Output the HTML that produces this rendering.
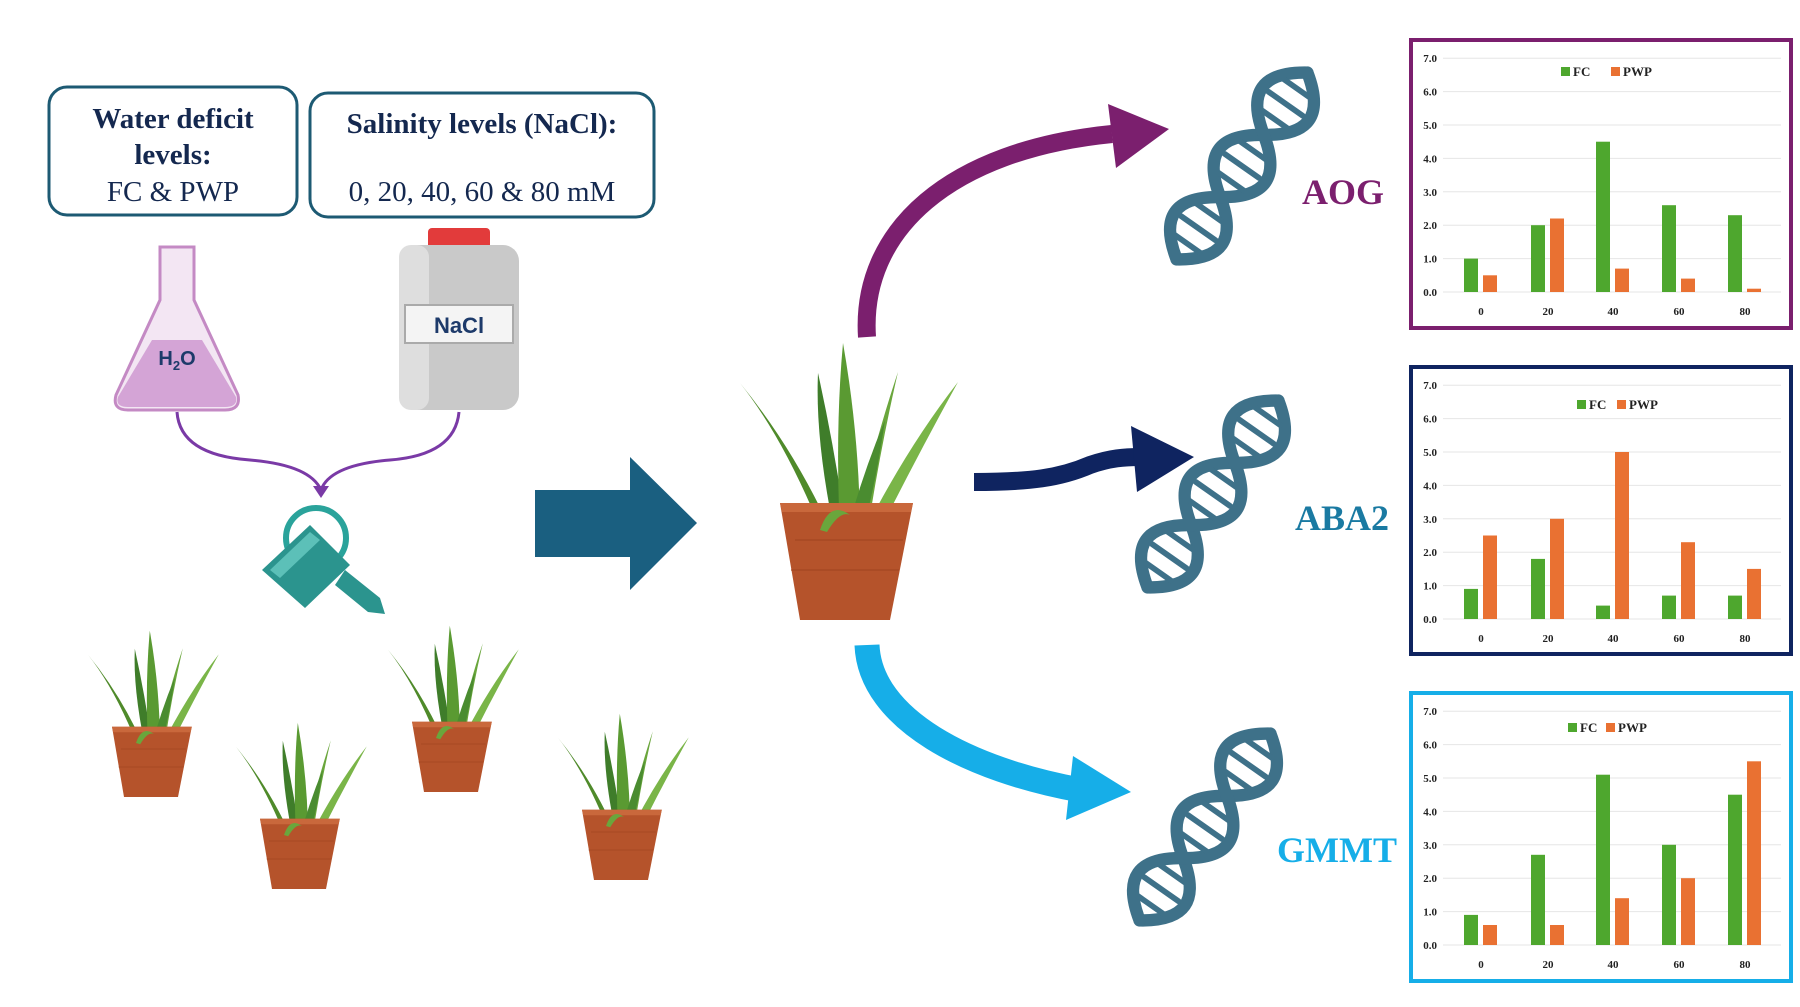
<!DOCTYPE html>
<html><head><meta charset="utf-8"><style>
html,body{margin:0;padding:0;background:#fff;}
svg{display:block;}
</style></head><body>
<svg width="1800" height="1007" viewBox="0 0 1800 1007" xmlns="http://www.w3.org/2000/svg" font-family="'Liberation Serif', serif">
<defs>
 <g id="plant">
  <path d="M98,195 Q60,110 5,43 Q50,100 88,195Z" fill="#4f8a2a"/>
  <path d="M100,195 Q80,100 83,33 Q100,110 112,195Z" fill="#3f7d2a"/>
  <path d="M105,195 Q100,90 108,3 Q125,100 125,195Z" fill="#5a9a32"/>
  <path d="M118,195 Q140,100 163,32 Q145,110 132,195Z" fill="#6aa63c"/>
  <path d="M125,200 Q170,110 223,42 Q180,120 140,200Z" fill="#7ab548"/>
  <path d="M110,200 Q125,140 150,80 Q140,150 125,200Z" fill="#4a8c30"/>
  <path d="M45,163 L178,163 L155,280 L65,280Z" fill="#b5532b"/>
  <path d="M45,163 L178,163 L176,172 L47,172Z" fill="#c9683c"/>
  <path d="M60,200 L168,200 M56,230 L164,230" stroke="#a04520" stroke-width="2" opacity=".5"/>
  <path d="M85,190 Q95,160 115,175 Q105,170 92,192Z" fill="#6aa63c"/>
 </g>
 <g id="dna" fill="none" stroke="#3e7189" stroke-linecap="round">
  <path d="M-120,0 C-93,40 -67,40 -40,0 S13,-40 40,0 S93,40 120,0" stroke-width="13"/>
  <path d="M-120,0 C-93,-40 -67,-40 -40,0 S13,40 40,0 S93,-40 120,0" stroke-width="13"/>
  <path d="M-100,-16 L-100,16 M-80,-22 L-80,22 M-60,-16 L-60,16 M-20,-16 L-20,16 M0,-22 L0,22 M20,-16 L20,16 M60,-16 L60,16 M80,-22 L80,22 M100,-16 L100,16" stroke-width="6"/>
 </g>
</defs>

<rect x="49" y="87" width="248" height="128" rx="18" fill="#fff" stroke="#1d5a73" stroke-width="3"/>
<text x="173" y="128" font-size="29" font-weight="bold" fill="#14284f" text-anchor="middle">Water deficit</text>
<text x="173" y="164" font-size="29" font-weight="bold" fill="#14284f" text-anchor="middle">levels:</text>
<text x="173" y="201" font-size="29" fill="#14284f" text-anchor="middle">FC &amp; PWP</text>
<rect x="310" y="93" width="344" height="124" rx="18" fill="#fff" stroke="#1d5a73" stroke-width="3"/>
<text x="482" y="133" font-size="29" font-weight="bold" fill="#14284f" text-anchor="middle">Salinity levels (NaCl):</text>
<text x="482" y="201" font-size="29" fill="#14284f" text-anchor="middle">0, 20, 40, 60 &amp; 80 mM</text>

<path d="M160,247 L194,247 L194,300 L238,395 Q241,410 225,410 L128,410 Q112,410 116,395 L160,300Z" fill="#f3e6f3" stroke="#c48ac4" stroke-width="3"/>
<path d="M152,340 L202,340 L236,397 Q238,407 225,407 L128,407 Q115,407 118,397Z" fill="#d4a4d6"/>
<text x="177" y="365" font-size="20" font-weight="bold" fill="#1d3a6a" text-anchor="middle" font-family="'Liberation Sans',sans-serif">H<tspan font-size="13" dy="5">2</tspan><tspan dy="-5">O</tspan></text>
<rect x="428" y="228" width="62" height="22" rx="4" fill="#e23b3b"/>
<rect x="399" y="245" width="120" height="165" rx="16" fill="#c9c9c9"/>
<rect x="399" y="245" width="30" height="165" rx="12" fill="#dedede"/>
<rect x="405" y="305" width="108" height="38" fill="#f4f4f4" stroke="#aaa" stroke-width="2"/>
<text x="459" y="333" font-size="22" font-weight="bold" fill="#1d3a6a" text-anchor="middle" font-family="'Liberation Sans',sans-serif">NaCl</text>

<path d="M177,412 Q180,455 250,460 Q310,465 321,490 M459,412 Q455,455 390,460 Q330,465 321,490" fill="none" stroke="#7a3aa6" stroke-width="3"/>
<path d="M313,486 L329,486 L321,498Z" fill="#7a3aa6"/>

<circle cx="316" cy="538" r="30" fill="none" stroke="#2aa39b" stroke-width="6"/>
<path d="M262,570 L310,525 L350,565 L305,608Z" fill="#2b948e"/>
<path d="M345,570 L380,598 L385,614 L368,612 L335,585Z" fill="#2b948e"/>
<path d="M270,570 L310,532 L320,540 L280,578Z" fill="#5cc0b8"/>

<path d="M535,490 L630,490 L630,457 L697,523 L630,590 L630,557 L535,557Z" fill="#1a5f80"/>

<use href="#plant" transform="translate(735,340)"/>
<use href="#plant" transform="translate(85,629) scale(0.6)"/>
<use href="#plant" transform="translate(233,721) scale(0.6)"/>
<use href="#plant" transform="translate(385,624) scale(0.6)"/>
<use href="#plant" transform="translate(555,712) scale(0.6)"/>

<path d="M867,337 C860,230 950,150 1112,134" fill="none" stroke="#7b1f6e" stroke-width="18"/>
<path d="M1169,129 L1108,104 L1116,168Z" fill="#7b1f6e"/>
<path d="M974,482 C1030,482 1060,478 1090,465 C1110,458 1125,457 1140,457" fill="none" stroke="#0f2460" stroke-width="18"/>
<path d="M1194,457 L1131,426 L1137,492Z" fill="#0f2460"/>
<path d="M867,645 C870,720 970,770 1080,790" fill="none" stroke="#16aee8" stroke-width="25"/>
<path d="M1131,792 L1073,756 L1066,820Z" fill="#16aee8"/>

<use href="#dna" transform="translate(1242,166) rotate(-55) scale(0.95)"/>
<use href="#dna" transform="translate(1213,494) rotate(-55) scale(0.95)"/>
<use href="#dna" transform="translate(1205,827) rotate(-55) scale(0.95)"/>

<text x="1302" y="204" font-size="36" font-weight="bold" fill="#7b1f6e">AOG</text>
<text x="1295" y="530" font-size="36" font-weight="bold" fill="#1a7aa2">ABA2</text>
<text x="1277" y="862" font-size="36" font-weight="bold" fill="#16aee8">GMMT</text>

<g transform="translate(1411,40)" font-size="11" font-weight="bold" fill="#222">
 <rect x="0" y="0" width="380" height="288" fill="#fff" stroke="#7b1f6e" stroke-width="4"/>
 <path d="M32,252H370M32,218.6H370M32,185.2H370M32,151.8H370M32,118.4H370M32,85H370M32,51.6H370M32,18.2H370" stroke="#e6e6e6" stroke-width="1"/>
 <g text-anchor="end"><text x="26" y="256">0.0</text><text x="26" y="222.6">1.0</text><text x="26" y="189.2">2.0</text><text x="26" y="155.8">3.0</text><text x="26" y="122.4">4.0</text><text x="26" y="89">5.0</text><text x="26" y="55.6">6.0</text><text x="26" y="22.2">7.0</text></g>
 <g text-anchor="middle"><text x="70" y="275">0</text><text x="137" y="275">20</text><text x="202" y="275">40</text><text x="268" y="275">60</text><text x="334" y="275">80</text></g>
 <rect x="150" y="27" width="9" height="9" fill="#4ea72e"/><text x="162" y="36" font-size="13">FC</text>
 <rect x="200" y="27" width="9" height="9" fill="#e97132"/><text x="212" y="36" font-size="13">PWP</text>
 <g transform="translate(0,252) scale(1,-1)">
  <g fill="#4ea72e"><rect x="53" width="14" height="33.4"/><rect x="120" width="14" height="66.8"/><rect x="185" width="14" height="150.3"/><rect x="251" width="14" height="86.8"/><rect x="317" width="14" height="76.8"/></g>
  <g fill="#e97132"><rect x="72" width="14" height="16.7"/><rect x="139" width="14" height="73.5"/><rect x="204" width="14" height="23.4"/><rect x="270" width="14" height="13.4"/><rect x="336" width="14" height="3.3"/></g>
 </g>
</g>

<g transform="translate(1411,367)" font-size="11" font-weight="bold" fill="#222">
 <rect x="0" y="0" width="380" height="287" fill="#fff" stroke="#0f2460" stroke-width="4"/>
 <path d="M32,252H370M32,218.6H370M32,185.2H370M32,151.8H370M32,118.4H370M32,85H370M32,51.6H370M32,18.2H370" stroke="#e6e6e6" stroke-width="1"/>
 <g text-anchor="end"><text x="26" y="256">0.0</text><text x="26" y="222.6">1.0</text><text x="26" y="189.2">2.0</text><text x="26" y="155.8">3.0</text><text x="26" y="122.4">4.0</text><text x="26" y="89">5.0</text><text x="26" y="55.6">6.0</text><text x="26" y="22.2">7.0</text></g>
 <g text-anchor="middle"><text x="70" y="275">0</text><text x="137" y="275">20</text><text x="202" y="275">40</text><text x="268" y="275">60</text><text x="334" y="275">80</text></g>
 <rect x="166" y="33" width="9" height="9" fill="#4ea72e"/><text x="178" y="42" font-size="13">FC</text>
 <rect x="206" y="33" width="9" height="9" fill="#e97132"/><text x="218" y="42" font-size="13">PWP</text>
 <g transform="translate(0,252) scale(1,-1)">
  <g fill="#4ea72e"><rect x="53" width="14" height="30.1"/><rect x="120" width="14" height="60.1"/><rect x="185" width="14" height="13.4"/><rect x="251" width="14" height="23.4"/><rect x="317" width="14" height="23.4"/></g>
  <g fill="#e97132"><rect x="72" width="14" height="83.5"/><rect x="139" width="14" height="100.2"/><rect x="204" width="14" height="167"/><rect x="270" width="14" height="76.8"/><rect x="336" width="14" height="50.1"/></g>
 </g>
</g>

<g transform="translate(1411,693)" font-size="11" font-weight="bold" fill="#222">
 <rect x="0" y="0" width="380" height="288" fill="#fff" stroke="#16aee8" stroke-width="4"/>
 <path d="M32,252H370M32,218.6H370M32,185.2H370M32,151.8H370M32,118.4H370M32,85H370M32,51.6H370M32,18.2H370" stroke="#e6e6e6" stroke-width="1"/>
 <g text-anchor="end"><text x="26" y="256">0.0</text><text x="26" y="222.6">1.0</text><text x="26" y="189.2">2.0</text><text x="26" y="155.8">3.0</text><text x="26" y="122.4">4.0</text><text x="26" y="89">5.0</text><text x="26" y="55.6">6.0</text><text x="26" y="22.2">7.0</text></g>
 <g text-anchor="middle"><text x="70" y="275">0</text><text x="137" y="275">20</text><text x="202" y="275">40</text><text x="268" y="275">60</text><text x="334" y="275">80</text></g>
 <rect x="157" y="30" width="9" height="9" fill="#4ea72e"/><text x="169" y="39" font-size="13">FC</text>
 <rect x="195" y="30" width="9" height="9" fill="#e97132"/><text x="207" y="39" font-size="13">PWP</text>
 <g transform="translate(0,252) scale(1,-1)">
  <g fill="#4ea72e"><rect x="53" width="14" height="30.1"/><rect x="120" width="14" height="90.2"/><rect x="185" width="14" height="170.3"/><rect x="251" width="14" height="100.2"/><rect x="317" width="14" height="150.3"/></g>
  <g fill="#e97132"><rect x="72" width="14" height="20"/><rect x="139" width="14" height="20"/><rect x="204" width="14" height="46.8"/><rect x="270" width="14" height="66.8"/><rect x="336" width="14" height="183.7"/></g>
 </g>
</g>
</svg>
</body></html>
